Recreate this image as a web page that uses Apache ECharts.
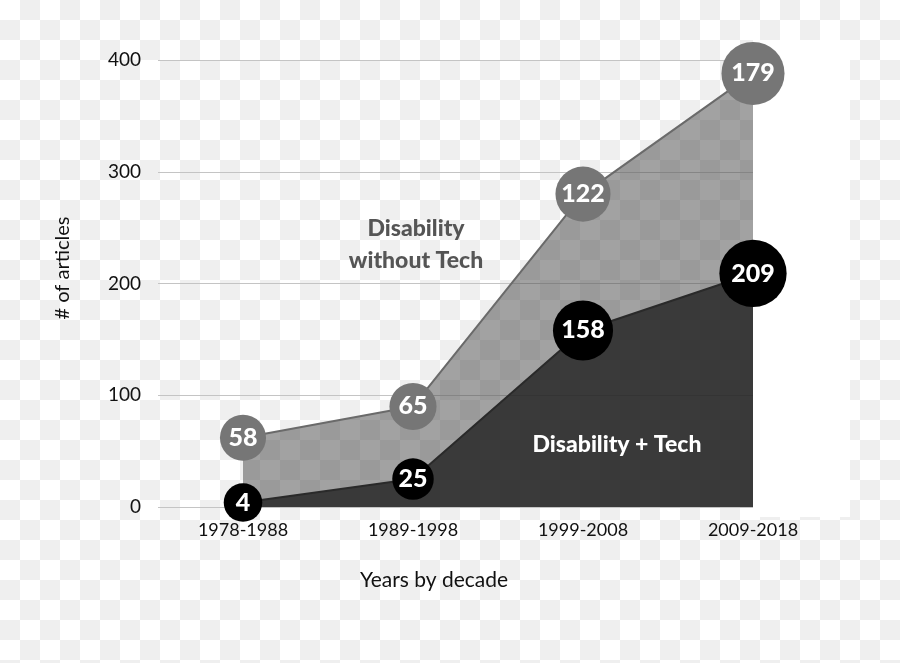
<!DOCTYPE html>
<html>
<head>
<meta charset="utf-8">
<script src="https://cdn.jsdelivr.net/npm/echarts@6/dist/echarts.min.js"></script>
<style>html,body{margin:0;padding:0;}#chart{width:900px;height:663px;}</style>
</head>
<body>
<div id="chart"></div>
<script>
const categories = ['1978-1988', '1989-1998', '1999-2008', '2009-2018'];
const withTech = [4, 25, 158, 209];
const withoutTech = [58, 65, 122, 179];
const yTicks = [0, 100, 200, 300, 400];

// checkerboard "transparent" background pattern
const pat = document.createElement('canvas');
pat.width = 40; pat.height = 40;
const pc = pat.getContext('2d');
pc.fillStyle = '#ffffff'; pc.fillRect(0, 0, 40, 40);
pc.fillStyle = '#efefef'; pc.fillRect(20, 0, 20, 20); pc.fillRect(0, 20, 20, 20);

const FONT = 'Lato, "Open Sans", sans-serif';
const chart = echarts.init(document.getElementById('chart'));
const sizeFn = (v, p) => 38 + p.value * 0.14;

chart.setOption({
  backgroundColor: { image: pat, repeat: 'repeat' },
  animation: false,
  grid: { left: 158, right: 62, top: 60, bottom: 156 },
  xAxis: {
    type: 'category', data: categories, boundaryGap: true,
    axisLine: { show: false }, axisTick: { show: false },
    axisLabel: { color: '#111', fontSize: 18, fontFamily: FONT, margin: 14 }
  },
  yAxis: {
    type: 'value', min: yTicks[0], max: yTicks[yTicks.length - 1], interval: 100,
    axisLine: { show: false }, axisTick: { show: false },
    axisLabel: { color: '#111', fontSize: 19, fontFamily: FONT, margin: 17 },
    splitLine: { lineStyle: { color: '#c4c4c4', width: 1 } }
  },
  graphic: [
    { type: 'rect', z: 1, shape: { x: 753, y: 40, width: 97, height: 477 }, style: { fill: '#ffffff' } },
    { type: 'text', z: 100, style: { text: 'Years by decade', x: 434, y: 580, align: 'center', verticalAlign: 'middle', fill: '#111', font: '21px ' + FONT } },
    { type: 'text', z: 100, x: 63, y: 268, rotation: Math.PI / 2, style: { text: '# of articles', x: 0, y: 0, align: 'center', verticalAlign: 'middle', fill: '#111', font: '20px ' + FONT } },
    { type: 'text', z: 100, style: { text: 'Disability\nwithout Tech', x: 416, y: 245, align: 'center', verticalAlign: 'middle', lineHeight: 32, fill: '#555555', font: '900 23px ' + FONT } },
    { type: 'text', z: 100, style: { text: 'Disability + Tech', x: 617, y: 445, align: 'center', verticalAlign: 'middle', fill: '#ffffff', font: '900 23px ' + FONT } }
  ],
  series: [
    {
      name: 'Disability + Tech', type: 'line', stack: 'total', data: withTech,
      z: 3,
      symbol: 'circle', symbolSize: sizeFn,
      itemStyle: { color: '#000000' },
      lineStyle: { color: '#2a2a2a', width: 2 },
      areaStyle: { color: '#252525', opacity: 0.9 },
      label: { show: true, position: 'inside', color: '#fff', fontSize: 25, fontWeight: 900, fontFamily: FONT }
    },
    {
      name: 'Disability without Tech', type: 'line', stack: 'total', data: withoutTech,
      z: 2,
      symbol: 'circle', symbolSize: sizeFn,
      itemStyle: { color: '#767676' },
      lineStyle: { color: '#6a6a6a', width: 2 },
      areaStyle: { color: '#464646', opacity: 0.5 },
      label: { show: true, position: 'inside', color: '#fff', fontSize: 25, fontWeight: 900, fontFamily: FONT }
    }
  ]
});
</script>
</body>
</html>
